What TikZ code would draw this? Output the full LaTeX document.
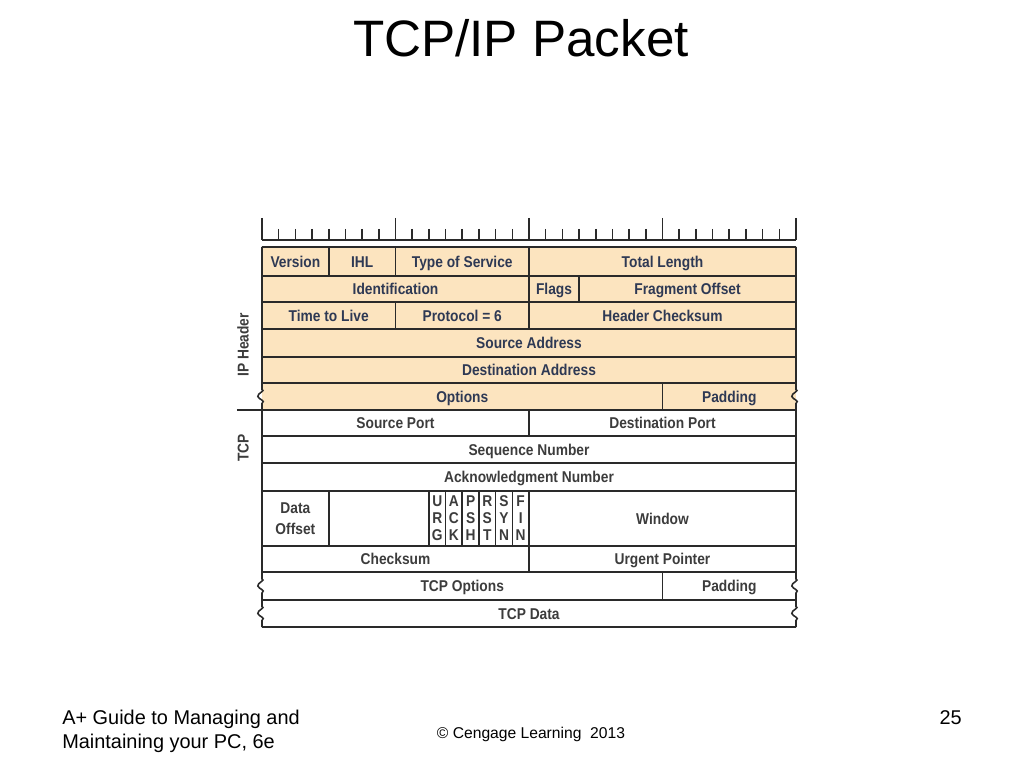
\documentclass[tikz,border=0pt]{standalone}
\usepackage{fontspec}
\setmainfont{Liberation Sans}
\newfontfamily\cellfont[FakeStretch=0.88]{Liberation Sans}
\definecolor{ipfill}{HTML}{FCE4BF}
\definecolor{iptext}{HTML}{2E3954}
\definecolor{tcptext}{HTML}{3C3C3C}
\definecolor{rulegray}{HTML}{2A2A2A}
\tikzset{
	edge/.style={draw=rulegray,line width=1.1pt},
	field/.style={font=\cellfont\bfseries\fontsize{11}{12}\selectfont,inner sep=0pt,text height=7.9pt,text depth=0pt},
	ipfield/.style={field,text=iptext},
	tcpfield/.style={field,text=tcptext},
	flagbit/.style={tcpfield,align=center,text height=,text depth=,font=\cellfont\bfseries\fontsize{11}{12.1}\selectfont},
	footer/.style={inner sep=0pt,font=\fontsize{14}{17}\selectfont},
}
% break mark on an edge of the table, centred on row middle #2
\newcommand\squiggle[2]{-- (#1,#2-7) .. controls (#1+0.25,#2-6) and (#1-0.3,#2-3) .. (#1-0.25,#2)
	.. controls (#1-0.2,#2+3) and (#1+0.25,#2+4) .. (#1,#2+7)}
\begin{document}
\begin{tikzpicture}[x=0.703125pt,y=-0.703125pt]
			\useasboundingbox (0,0) rectangle (1024,768);
			\node[font=\fontsize{36}{40}\selectfont,anchor=base] (title) at (521,57) {TCP/IP Packet};
			\begin{scope}[xshift=184.21875pt,x=11.7334pt]
				% ruler, one tick per bit
				\draw[edge] (0,240) -- (32,240);
				\foreach \i in {0,...,32}
					\draw[edge] (\i,229) -- (\i,240);
				\foreach \i in {0,8,...,32}
					\draw[edge] (\i,218) -- (\i,240);
				% IP header
				\fill[ipfill] (0,247) rectangle (32,410);
				\foreach \y in {247,276,302,329,357,383,410,436,463,491,546,572,600,627}
					\draw[edge] (0,\y) -- (32,\y);
				\draw[edge] (0,247) \squiggle{0}{396.5} \squiggle{0}{586} \squiggle{0}{613.5} -- (0,627);
				\draw[edge] (32,247) \squiggle{32}{396.5} \squiggle{32}{586} \squiggle{32}{613.5} -- (32,627);
				\draw[edge] (-1.5,410) -- (0,410);
				\foreach \b/\t/\u in {4/247/276,8/247/276,16/247/276,16/276/302,19/276/302,
						8/302/329,16/302/329,24/383/410,16/410/436,4/491/546,10/491/546,11/491/546,
						12/491/546,13/491/546,14/491/546,15/491/546,16/491/546,16/546/572,24/572/600}
					\draw[edge] (\b,\t) -- (\b,\u);
				\node[ipfield] (ver) at (2,261.5) {Version};
				\node[ipfield] (ihl) at (6,261.5) {IHL};
				\node[ipfield] (tos) at (12,261.5) {Type of Service};
				\node[ipfield] (tlen) at (24,261.5) {Total Length};
				\node[ipfield] (ident) at (8,289) {Identification};
				\node[ipfield] (flags) at (17.5,289) {Flags};
				\node[ipfield] (frag) at (25.5,289) {Fragment Offset};
				\node[ipfield] (ttl) at (4,315.5) {Time to Live};
				\node[ipfield] (proto) at (12,315.5) {Protocol = 6};
				\node[ipfield] (hcsum) at (24,315.5) {Header Checksum};
				\node[ipfield] (srcaddr) at (16,343) {Source Address};
				\node[ipfield] (dstaddr) at (16,370) {Destination Address};
				\node[ipfield] (ipopt) at (12,396.5) {Options};
				\node[ipfield] (ippad) at (28,396.5) {Padding};
				% TCP segment
				\node[tcpfield] (sport) at (8,423) {Source Port};
				\node[tcpfield] (dport) at (24,423) {Destination Port};
				\node[tcpfield] (seq) at (16,449.5) {Sequence Number};
				\node[tcpfield] (ack) at (16,477) {Acknowledgment Number};
				\node[flagbit,font=\cellfont\bfseries\fontsize{11}{14.8}\selectfont] (doff) at (2,518.5) {Data\\Offset};
				\foreach \f/\l [count=\k from 0] in {urg/U\\R\\G,ack/A\\C\\K,psh/P\\S\\H,rst/R\\S\\T,syn/S\\Y\\N,fin/F\\I\\N}
					\node[flagbit] (\f) at (10.5+\k,518) {\l};
				\node[tcpfield] (win) at (24,518.5) {Window};
				\node[tcpfield] (csum) at (8,559) {Checksum};
				\node[tcpfield] (urgp) at (24,559) {Urgent Pointer};
				\node[tcpfield] (tcpopt) at (12,586) {TCP Options};
				\node[tcpfield] (tcppad) at (28,586) {Padding};
				\node[tcpfield] (data) at (16,613.5) {TCP Data};
				\node[tcpfield,rotate=90] (iphdr) at (-1.14,345) {IP Header};
				\node[tcpfield,rotate=90] (tcphdr) at (-1.14,448) {TCP};
			\end{scope}
			\node[footer,anchor=base west] (book1) at (62,724) {A+ Guide to Managing and};
			\node[footer,anchor=base west] (book2) at (62,748) {Maintaining your PC, 6e};
			\node[footer,font=\fontsize{11}{13}\selectfont,anchor=base] (copy) at (531,738) {© Cengage Learning\ \ 2013};
			\node[footer,anchor=base east] (page) at (962,724) {25};
		\end{tikzpicture}
\end{document}
